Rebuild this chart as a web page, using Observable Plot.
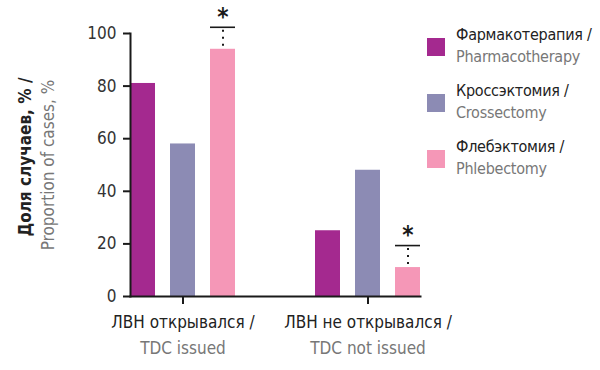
<!DOCTYPE html>
<html><head><meta charset="utf-8">
<script src="https://cdn.jsdelivr.net/npm/d3@7"></script>
<script src="https://cdn.jsdelivr.net/npm/@observablehq/plot@0.6"></script>
<style>
body{margin:0;background:#fff;}
#wrap{position:relative;width:600px;height:370px;overflow:hidden;font-family:"Liberation Sans Narrow","DejaVu Sans Condensed","Roboto Condensed",sans-serif;}
#wrap svg{position:absolute;left:0;top:0;}
.ytitle{position:absolute;white-space:nowrap;font-size:17px;transform:translate(-50%,-50%) rotate(-90deg);line-height:1;}
.legend{position:absolute;left:427px;top:24px;}
.item{position:relative;height:56px;}
.sw{position:absolute;left:0;top:14px;width:18px;height:18px;}
.lab{position:absolute;left:29px;top:0;font-size:16px;letter-spacing:-0.25px;line-height:22px;white-space:nowrap;}
.ru{color:#222;}
.en{color:#777;}
</style></head><body><div id="wrap"></div>
<script>
const groupsRu = ["ЛВН открывался /", "ЛВН не открывался /"];
const groupsEn = ["TDC issued", "TDC not issued"];
const seriesRu = ["Фармакотерапия /", "Кроссэктомия /", "Флебэктомия /"];
const seriesEn = ["Pharmacotherapy", "Crossectomy", "Phlebectomy"];
const colors = ["#a4298f", "#8c8bb4", "#f597b7"];
const valuesTDCIssued = [81, 58, 94];
const valuesTDCNotIssued = [25, 48, 11];
const significantTDCIssued = [false, false, true];
const significantTDCNotIssued = [false, false, true];
const yTicks = [0, 20, 40, 60, 80, 100];
const yTitleRu = "Доля случаев, % /";
const yTitleEn = "Proportion of cases, %";

const groupValues = [valuesTDCIssued, valuesTDCNotIssued];
const groupSig = [significantTDCIssued, significantTDCNotIssued];
const rows = [];
groupsEn.forEach((g, gi) => seriesEn.forEach((s, si) => rows.push({group: g, series: s, value: groupValues[gi][si], sig: groupSig[gi][si]})));
const sigRows = rows.filter(d => d.sig);

const ink = "#1a1a1a";
const chart = Plot.plot({
  width: 600, height: 370,
  marginLeft: 114, marginRight: 164, marginTop: 33, marginBottom: 74,
  style: {fontFamily: '"Liberation Sans Narrow","DejaVu Sans Condensed","Roboto Condensed",sans-serif', fontSize: "17px", background: "transparent", overflow: "visible"},
  fx: {domain: groupsEn, paddingInner: 0.4324, paddingOuter: 0.0838, axis: null, label: null},
  x: {domain: seriesEn, paddingInner: 0.375, paddingOuter: 0, axis: null},
  y: {domain: [0, 100], axis: null},
  color: {domain: seriesEn, range: colors},
  marks: [
    Plot.barY(rows, {fx: "group", x: "series", y: "value", fill: "series"}),
    Plot.tickY(sigRows, {fx: "group", x: "series", y: "value", dy: -22, stroke: ink, strokeWidth: 1.6}),
    Plot.ruleX(sigRows, {fx: "group", x: "series", y1: "value", y2: "value", insetTop: -19, insetBottom: 3, stroke: ink, strokeWidth: 2, strokeDasharray: "2 5"}),
    Plot.text(sigRows, {fx: "group", x: "series", y: "value", dy: -32, text: () => "*", fontSize: 24, fontWeight: "bold", fill: ink}),
    Plot.frame({anchor: "bottom", facet: "super", stroke: ink, strokeWidth: 2}),
    Plot.frame({anchor: "left", facet: "super", stroke: ink, strokeWidth: 2}),
    Plot.axisY({ticks: yTicks, tickSize: 7, tickPadding: 7, label: null, stroke: ink, strokeWidth: 2, fill: "#333"}),
    Plot.axisFx({anchor: "bottom", tickSize: 8, tickPadding: 11, label: null, stroke: ink, strokeWidth: 2, fill: "#222", tickFormat: d => groupsRu[groupsEn.indexOf(d)]}),
    Plot.axisFx({anchor: "bottom", tickSize: 0, tickPadding: 45, label: null, fill: "#777", tickFormat: d => d})
  ]
});
const wrap = document.getElementById("wrap");
wrap.appendChild(chart);

const t1 = document.createElement("div");
t1.className = "ytitle ru"; t1.style.fontWeight = "bold"; t1.style.left = "25px"; t1.style.top = "157px"; t1.textContent = yTitleRu;
wrap.appendChild(t1);
const t2 = document.createElement("div");
t2.className = "ytitle en"; t2.style.left = "48px"; t2.style.top = "165px"; t2.textContent = yTitleEn;
wrap.appendChild(t2);

const legend = document.createElement("div");
legend.className = "legend";
seriesEn.forEach((s, i) => {
  const it = document.createElement("div"); it.className = "item";
  const sw = document.createElement("div"); sw.className = "sw"; sw.style.background = colors[i];
  const lab = document.createElement("div"); lab.className = "lab";
  lab.innerHTML = `<div class="ru">${seriesRu[i]}</div><div class="en">${s}</div>`;
  it.appendChild(sw); it.appendChild(lab); legend.appendChild(it);
});
wrap.appendChild(legend);
</script></body></html>
